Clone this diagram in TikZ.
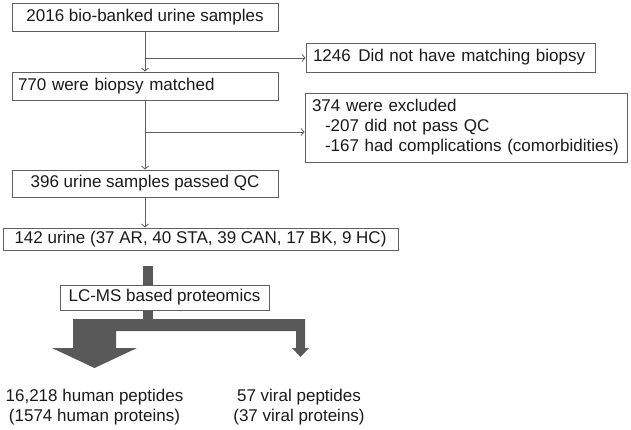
\documentclass[tikz,border=0pt]{standalone}
\usepackage{fontspec}
\setmainfont{Liberation Sans}
\usetikzlibrary{arrows.meta}
\definecolor{edgegray}{HTML}{606060}
\definecolor{txt}{HTML}{1A1A1A}
\definecolor{bargray}{HTML}{595959}
\begin{document}
\begin{tikzpicture}[x=1pt,y=-1pt,
  box/.style={draw=edgegray, fill=white, line width=1pt, inner sep=0pt, text=txt, font=\fontsize{17}{20}\selectfont},
  conn/.style={draw=edgegray, line width=0.8pt, -{Straight Barb[length=3pt,width=7pt]}},
  lbl/.style={text=txt, font=\fontsize{17}{20}\selectfont, align=center, inner sep=0pt}]
\useasboundingbox (0,0) rectangle (631,429);

% main column boxes
\node[box, minimum width=266pt, minimum height=28pt] (b1) at (145,17) {2016 bio-banked urine samples};
\node[box, minimum height=28pt, inner xsep=6pt, text width=254pt, align=left] (b2) at (145,86) {770 were biopsy matched};
\node[box, minimum width=266pt, minimum height=27pt] (b3) at (145,183.5) {396 urine samples passed QC};
\node[box, minimum width=395pt, minimum height=22pt] (b4) at (200.5,239) {142 urine (37 AR, 40 STA, 39 CAN, 17 BK, 9 HC)};

% side boxes
\node[box, minimum height=29pt, inner xsep=7pt, text width=275pt, align=left] (s1) at (450.5,57.5) {1246\hspace{7.5pt}Did not have matching biopsy};
\node[box, minimum height=69pt, inner xsep=7pt, text width=308pt, align=left] (s2) at (466,127.5)
  {374 were excluded\\\hspace*{13pt}-207 did not pass QC\\\hspace*{13pt}-167 had complications (comorbidities)};

% connectors
\coordinate (j1) at (145,58);
\coordinate (j2) at (145,132);
\draw[conn] (b1.south) -- (b2.north);
\draw[conn] (b2.south) -- (b3.north);
\draw[conn] (b3.south) -- (b3.south |- b4.north);
\draw[conn] (j1) -- (j1 -| s1.west);
\draw[conn] (j2) -- (j2 -| s2.west);

% thick arrows
\fill[bargray] (143,266) rectangle (153,320);
\fill[bargray] (73,319) -- (305,319) -- (305,348) -- (309,348) -- (300.5,357) -- (292,348)
  -- (296,348) -- (296,331) -- (116,331) -- (116,348) -- (137,348) -- (94.5,368)
  -- (52,348) -- (73,348) -- cycle;
\node[box, minimum width=209pt, minimum height=25pt] (lc) at (164.5,297.5) {LC-MS based proteomics};

% results
\node[lbl] (r1) at (94.5,407) {16,218 human peptides\\(1574 human proteins)};
\node[lbl] (r2) at (299,407) {57 viral peptides\\(37 viral proteins)};
\end{tikzpicture}
\end{document}
